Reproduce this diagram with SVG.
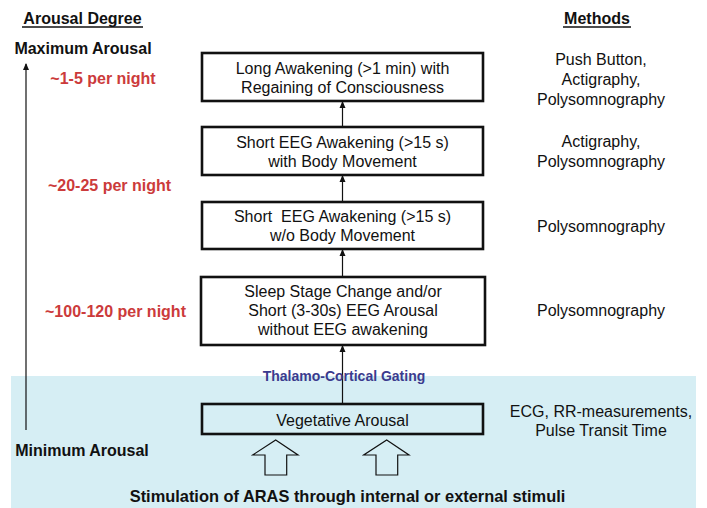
<svg xmlns="http://www.w3.org/2000/svg" width="707" height="508" viewBox="0 0 707 508">
<style>
text{font-family:"Liberation Sans",Arial,sans-serif;font-size:16px;fill:#111}
.c{text-anchor:middle}
.b{font-weight:bold}
.red{fill:#cc3b3b;font-weight:bold}
.box{fill:none;stroke:#111;stroke-width:2.6}
.con{stroke:#111;stroke-width:1.2;fill:none}
.blk{fill:#d6eef4;stroke:#111;stroke-width:1.2}
</style>
<defs>
<marker id="ah" markerWidth="8" markerHeight="8" refX="6" refY="4" orient="auto" markerUnits="userSpaceOnUse">
<path d="M0,1 L7,4 L0,7 Z" fill="#111"/>
</marker>
</defs>
<rect x="0" y="0" width="707" height="508" fill="#fff"/>
<rect id="band" x="11" y="376" width="685" height="132" fill="#d6eef4"/>

<g id="axis">
<text x="82.5" y="24" class="c b">Arousal Degree</text>
<line x1="22" y1="27" x2="143" y2="27" stroke="#111" stroke-width="1.3"/>
<text x="83" y="54" class="c b">Maximum Arousal</text>
<line x1="26" y1="430" x2="26" y2="64" class="con" marker-end="url(#ah)"/>
<text x="82" y="456" class="c b">Minimum Arousal</text>
<text x="103" y="84" class="c red">~1-5 per night</text>
<text x="109.5" y="191" class="c red">~20-25 per night</text>
<text x="115.5" y="317" class="c red">~100-120 per night</text>
</g>

<g id="methods">
<text x="597" y="24" class="c b">Methods</text>
<line x1="563" y1="27" x2="631" y2="27" stroke="#111" stroke-width="1.3"/>
<text x="601" y="65" class="c">Push Button,</text>
<text x="601" y="85" class="c">Actigraphy,</text>
<text x="601" y="105" class="c">Polysomnography</text>
<text x="601" y="147" class="c">Actigraphy,</text>
<text x="601" y="167" class="c">Polysomnography</text>
<text x="601" y="232" class="c">Polysomnography</text>
<text x="601" y="316" class="c">Polysomnography</text>
<text x="601" y="417" class="c">ECG, RR-measurements,</text>
<text x="601" y="436" class="c">Pulse Transit Time</text>
</g>

<g id="connectors">
<line x1="342.5" y1="127" x2="342.5" y2="102" class="con" marker-end="url(#ah)"/>
<line x1="342.5" y1="202" x2="342.5" y2="176" class="con" marker-end="url(#ah)"/>
<line x1="342.5" y1="277" x2="342.5" y2="250" class="con" marker-end="url(#ah)"/>
<line x1="342.5" y1="404" x2="342.5" y2="346" class="con" marker-end="url(#ah)"/>
</g>

<g id="gating">
<text x="344" y="381" class="c b" style="font-size:14px;fill:#3b3b8e">Thalamo-Cortical Gating</text>
</g>

<g id="long-awakening">
<rect x="202" y="53" width="281" height="48" class="box"/>
<text x="342.5" y="74" class="c">Long Awakening (&gt;1 min) with</text>
<text x="342.5" y="93" class="c">Regaining of Consciousness</text>
</g>

<g id="short-with-movement">
<rect x="202" y="127" width="281" height="48" class="box"/>
<text x="342.5" y="148" class="c">Short EEG Awakening (&gt;15 s)</text>
<text x="342.5" y="167" class="c">with Body Movement</text>
</g>

<g id="short-without-movement">
<rect x="202" y="202" width="281" height="47" class="box"/>
<text x="342.5" y="222" class="c" xml:space="preserve">Short  EEG Awakening (&gt;15 s)</text>
<text x="342.5" y="241" class="c">w/o Body Movement</text>
</g>

<g id="sleep-stage-change">
<rect x="201" y="277" width="284" height="68" class="box"/>
<text x="343" y="297" class="c">Sleep Stage Change and/or</text>
<text x="343" y="316" class="c">Short (3-30s) EEG Arousal</text>
<text x="343" y="335" class="c">without EEG awakening</text>
</g>

<g id="vegetative-arousal">
<rect x="202" y="404" width="281" height="30" class="box"/>
<text x="342.5" y="426" class="c">Vegetative Arousal</text>
</g>

<g id="stimuli">
<path d="M275.7,440 L298,455 L286.7,455 L286.7,475 L265,475 L265,455 L252.7,455 Z" class="blk"/>
<path d="M386.7,440 L409,455 L397.7,455 L397.7,475 L376,475 L376,455 L363.7,455 Z" class="blk"/>
<text x="347.5" y="502" class="c b" style="font-size:16.4px">Stimulation of ARAS through internal or external stimuli</text>
</g>
</svg>
